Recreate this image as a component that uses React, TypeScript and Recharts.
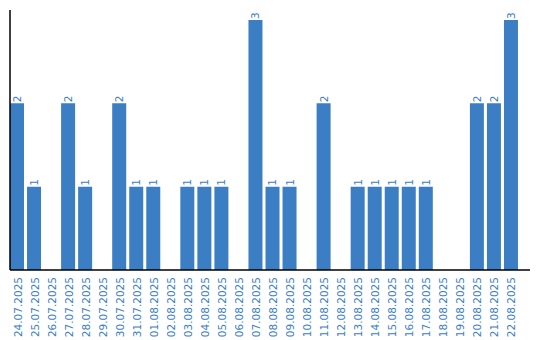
import { BarChart, Bar, XAxis, YAxis, LabelList } from "recharts";

const dates = [
  "24.07.2025", "25.07.2025", "26.07.2025", "27.07.2025", "28.07.2025", "29.07.2025",
  "30.07.2025", "31.07.2025", "01.08.2025", "02.08.2025", "03.08.2025", "04.08.2025",
  "05.08.2025", "06.08.2025", "07.08.2025", "08.08.2025", "09.08.2025", "10.08.2025",
  "11.08.2025", "12.08.2025", "13.08.2025", "14.08.2025", "15.08.2025", "16.08.2025",
  "17.08.2025", "18.08.2025", "19.08.2025", "20.08.2025", "21.08.2025", "22.08.2025",
];
const counts = [2, 1, 0, 2, 1, 0, 2, 1, 1, 0, 1, 1, 1, 0, 3, 1, 1, 0, 2, 0, 1, 1, 1, 1, 1, 0, 0, 2, 2, 3];

const BLUE = "#3b7ec3";
const FONT = "DejaVu Sans, sans-serif";

const data = dates.map((d, i) => ({ date: d, count: counts[i] }));

const DateTick = (props: any) => {
  const { x, y, payload } = props;
  const tx = x + 4.5;
  const ty = y - 1;
  return (
    <text
      x={tx}
      y={ty}
      transform={`rotate(-90 ${tx} ${ty})`}
      textAnchor="end"
      fill={BLUE}
      fontSize={10.5}
      fontFamily={FONT}
    >
      {payload.value}
    </text>
  );
};

const ValueLabel = (props: any) => {
  const { x, y, width, value } = props;
  if (!value) return null;
  const cx = x + width / 2 + 4;
  const cy = y - 1;
  return (
    <text
      x={cx}
      y={cy}
      transform={`rotate(-90 ${cx} ${cy})`}
      textAnchor="start"
      fill={BLUE}
      fontSize={10.5}
      fontFamily={FONT}
    >
      {value}
    </text>
  );
};

export default function App() {
  return (
    <div style={{ position: "absolute", left: 0, top: 0, width: 540, height: 340 }}>
      <BarChart
        width={540}
        height={340}
        data={data}
        margin={{ top: 10, right: 10, bottom: 0, left: 9 }}
        barCategoryGap={1.5}
      >
        <XAxis
          dataKey="date"
          interval={0}
          height={70}
          tickLine={false}
          axisLine={{ stroke: "#000", strokeWidth: 1.5 }}
          tick={<DateTick />}
          padding={{ left: -1.5, right: 10.5 }}
        />
        <YAxis
          width={1}
          domain={[0, 3.12]}
          tick={false}
          tickLine={false}
          axisLine={{ stroke: "#000", strokeWidth: 1.5 }}
        />
        <Bar dataKey="count" fill={BLUE} isAnimationActive={false}>
          <LabelList dataKey="count" content={<ValueLabel />} />
        </Bar>
      </BarChart>
    </div>
  );
}
